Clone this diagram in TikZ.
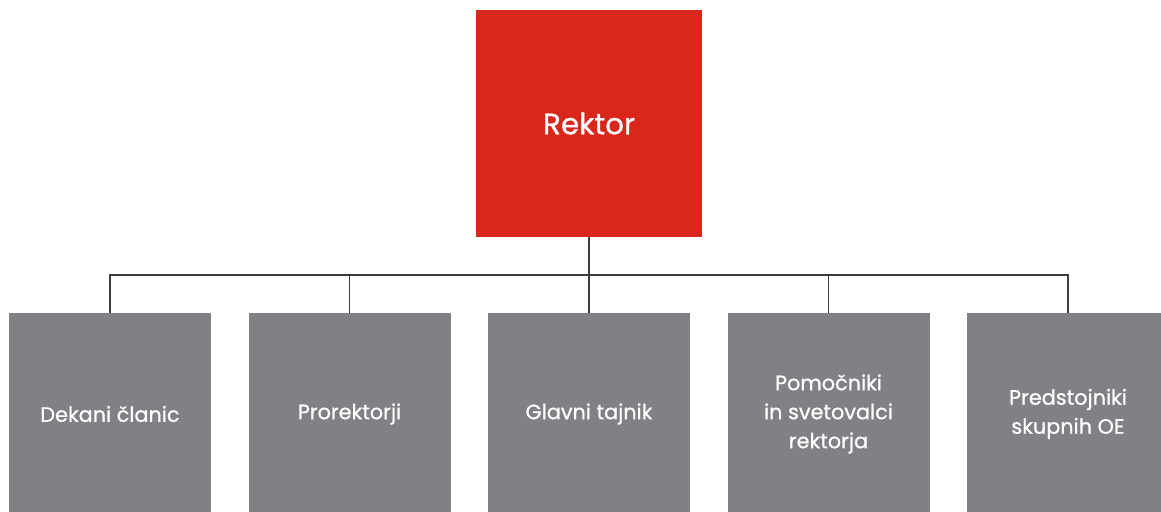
\documentclass[tikz,border=0pt]{standalone}
\usepackage{fontspec}
\setmainfont{Poppins}[RawFeature={embolden=0.8}]
\definecolor{rektorred}{HTML}{D9271C}
\definecolor{unitgrey}{HTML}{808184}
\definecolor{linkgrey}{HTML}{3C3C3C}
\begin{document}
\begin{tikzpicture}[x=1pt,y=-1pt,
  head/.style={fill=rektorred, text=white, inner sep=0pt,
    minimum width=226pt, minimum height=227pt,
    font=\fontsize{29.5}{34}\selectfont},
  unit/.style={fill=unitgrey, text=white, inner sep=0pt, align=center,
    minimum width=202pt, minimum height=202pt,
    font=\fontsize{20.8}{29}\selectfont},
  link/.style={linkgrey, line width=1.2pt}]
\useasboundingbox (0,0) rectangle (1161,511);
\node[head] (rektor) at (589,123.5) {Rektor};
\foreach \name/\txt [count=\i from 0] in {dekani/Dekani članic,
    prorektorji/Prorektorji, tajnik/Glavni tajnik,
    pomocniki/{Pomočniki\\in svetovalci\\rektorja},
    predstojniki/{Predstojniki\\skupnih OE}}
  \node[unit] (\name) at (110+239.5*\i,414) {\txt};
\coordinate (bus) at (0,275);
\draw[link] (dekani.north) -- (dekani.north |- bus)
  -- (predstojniki.north |- bus) -- (predstojniki.north);
\foreach \name in {prorektorji,tajnik,pomocniki}
  \draw[link] (\name.north) -- (\name.north |- bus);
\draw[link] (rektor.south) -- (tajnik.north |- bus);
\end{tikzpicture}
\end{document}
